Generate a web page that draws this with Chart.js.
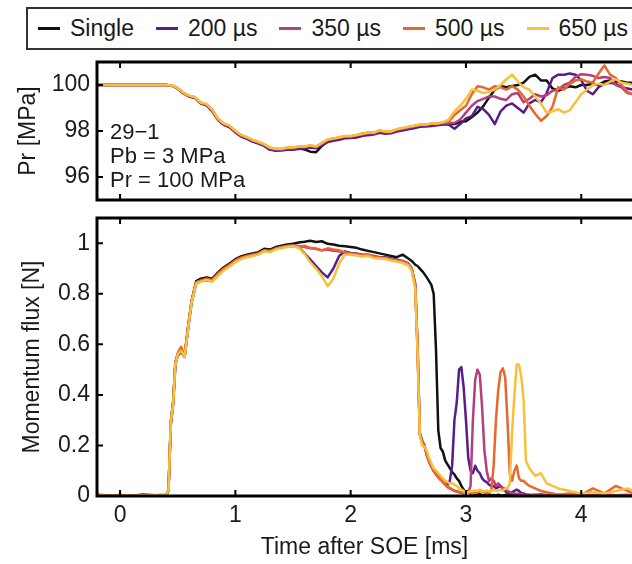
<!DOCTYPE html>
<html>
<head>
<meta charset="utf-8">
<script src="https://cdn.jsdelivr.net/npm/chart.js@4.4.1/dist/chart.umd.min.js"></script>
<style>
  html, body { margin:0; padding:0; background:#fff; width:632px; height:564px; overflow:hidden; }
  body { position:relative; font-family:'Liberation Sans', Arial, sans-serif; color:#1a1a1a; }
  #legend { position:absolute; left:26px; top:7px; height:39px; width:700px; border:2px solid #333;
            display:flex; align-items:center; padding-left:10px; box-sizing:content-box; }
  #legend .dash { width:22px; height:3px; margin-right:10px; }
  #legend .txt { font-size:23px; margin-right:22px; white-space:nowrap; line-height:1; }
  #topWrap { position:absolute; left:0; top:50px; }
  #botWrap { position:absolute; left:0; top:205px; }
</style>
</head>
<body>
<div id="legend"></div>
<div id="topWrap"><canvas id="prChart" width="632" height="160" style="width:632px;height:160px"></canvas></div>
<div id="botWrap"><canvas id="fluxChart" width="632" height="359" style="width:632px;height:359px"></canvas></div>
<script>
// ---------- data ----------
const seriesLabels = ['Single', '200 µs', '350 µs', '500 µs', '650 µs'];
const seriesColors = ['#111111', '#5a1d8c', '#b43f7c', '#e8672d', '#f6c13c'];
const timeTicks = [0, 1, 2, 3, 4];
const prTicks = [96, 98, 100];
const fluxTicks = [0, 0.2, 0.4, 0.6, 0.8, 1];
const annotationLines = ['29\u22121', 'Pb = 3 MPa', 'Pr = 100 MPa'];

// Pressure panel time axis [ms]
const timePr = [
  -0.2, 0, 0.2, 0.4,
  0.45, 0.5, 0.55, 0.6, 0.65, 0.7, 0.75, 0.8, 0.85, 0.9, 0.95, 1.0,
  1.05, 1.1, 1.15, 1.2, 1.25, 1.3, 1.35, 1.4, 1.45, 1.5,
  1.55, 1.6, 1.65, 1.7, 1.75, 1.8, 1.85, 1.9, 1.95, 2.0,
  2.05, 2.1, 2.15, 2.2, 2.25, 2.3, 2.35, 2.4, 2.45, 2.5,
  2.55, 2.6, 2.65, 2.7, 2.75, 2.8, 2.85, 2.9, 2.95, 3.0,
  3.05, 3.1, 3.15, 3.2, 3.25, 3.3, 3.35, 3.4, 3.45, 3.5,
  3.55, 3.6, 3.65, 3.7, 3.75, 3.8, 3.85, 3.9, 3.95, 4.0,
  4.05, 4.1, 4.15, 4.2, 4.25, 4.3, 4.35, 4.4, 4.45
];
const prSingle = [
  100, 100, 100, 100,
  99.97, 99.85, 99.65, 99.5, 99.45, 99.2, 99.12, 98.88, 98.5, 98.28, 98.18, 97.95,
  97.78, 97.68, 97.55, 97.48, 97.38, 97.22, 97.15, 97.18, 97.2, 97.2,
  97.25, 97.2, 97.1, 97.08, 97.35, 97.55, 97.62, 97.7, 97.72, 97.75,
  97.8, 97.88, 97.92, 97.9, 98.02, 97.95, 97.98, 98.05, 98.1, 98.12,
  98.18, 98.22, 98.25, 98.28, 98.3, 98.32, 98.3, 98.3, 98.4, 98.42,
  98.6, 98.8, 99.08, 99.45, 99.8, 99.96, 99.9, 99.96, 100.0, 100.1,
  100.35, 100.45, 100.2, 100.2, 99.85, 99.75, 99.85, 99.95, 99.9, 100.0,
  100.0, 100.05, 100.0, 100.15, 100.2, 100.15, 100.15, 100.1, 100.1
];
const pr200 = [
  100, 100, 100, 100,
  99.97, 99.84, 99.63, 99.5, 99.43, 99.2, 99.12, 98.86, 98.48, 98.27, 98.16, 97.94,
  97.76, 97.66, 97.54, 97.45, 97.35, 97.18, 97.15, 97.15, 97.18, 97.2,
  97.22, 97.25, 97.28, 97.25, 97.38, 97.52, 97.58, 97.62, 97.68, 97.7,
  97.72, 97.78, 97.82, 97.85, 97.92, 97.88, 97.9, 97.98, 98.02, 98.08,
  98.12, 98.18, 98.2, 98.22, 98.25, 98.28, 98.28, 98.1, 98.3, 98.55,
  98.65, 99.05, 98.95, 98.7, 98.3, 98.85, 99.1, 99.2, 99.0, 98.8,
  99.2, 99.35, 99.25, 99.65, 100.3, 100.45, 100.45, 100.5, 100.45, 100.2,
  99.75, 99.6, 99.9, 100.05, 100.1, 100.05, 99.9, 99.85, 99.8
];
const pr350 = [
  100, 100, 100, 100,
  99.97, 99.85, 99.65, 99.52, 99.45, 99.22, 99.15, 98.9, 98.5, 98.3, 98.2, 97.98,
  97.8, 97.7, 97.58, 97.5, 97.4, 97.25, 97.2, 97.2, 97.25, 97.25,
  97.3, 97.3, 97.35, 97.3, 97.45, 97.6, 97.65, 97.7, 97.75, 97.75,
  97.8, 97.85, 97.9, 97.9, 98.0, 97.95, 97.95, 98.05, 98.1, 98.15,
  98.2, 98.25, 98.25, 98.3, 98.3, 98.35, 98.35, 98.35, 98.5, 98.8,
  99.1, 99.3, 99.4, 99.5, 99.5, 99.4, 99.35, 99.6, 99.65, 99.25,
  99.4, 99.6, 99.5, 99.55, 99.75, 99.8, 100.0, 100.1, 100.35, 100.47,
  100.45, 100.4, 100.3, 100.35, 100.3, 100.0, 99.9, 99.65, 99.6
];
const pr500 = [
  100, 100, 100, 100,
  99.98, 99.86, 99.66, 99.53, 99.46, 99.23, 99.16, 98.92, 98.52, 98.32, 98.22, 98.0,
  97.82, 97.72, 97.6, 97.52, 97.42, 97.27, 97.22, 97.22, 97.27, 97.27,
  97.32, 97.32, 97.37, 97.32, 97.47, 97.62, 97.67, 97.72, 97.77, 97.77,
  97.82, 97.87, 97.92, 97.92, 98.02, 97.97, 97.97, 98.07, 98.12, 98.17,
  98.22, 98.27, 98.27, 98.32, 98.32, 98.37, 98.4, 98.7, 98.9, 99.1,
  99.6, 99.95, 99.9, 99.8, 99.95, 99.9, 99.8, 99.95, 99.8, 99.5,
  99.1, 98.75, 98.45, 98.65, 99.05, 99.9, 99.8, 100.05, 100.2, 100.25,
  100.15, 100.1, 100.5, 100.85, 100.45, 100.3, 100.0, 99.7, 99.6
];
const pr650 = [
  100, 100, 100, 100,
  99.98, 99.86, 99.67, 99.54, 99.47, 99.24, 99.17, 98.93, 98.53, 98.33, 98.23, 98.01,
  97.83, 97.73, 97.61, 97.53, 97.43, 97.28, 97.23, 97.23, 97.28, 97.28,
  97.33, 97.33, 97.38, 97.33, 97.48, 97.63, 97.68, 97.73, 97.78, 97.78,
  97.83, 97.88, 97.93, 97.93, 98.03, 97.98, 97.98, 98.08, 98.13, 98.18,
  98.23, 98.28, 98.28, 98.33, 98.33, 98.38, 98.5, 98.85, 99.1, 99.4,
  99.8, 99.75, 99.65, 99.7, 99.8, 100.0, 100.25, 100.45, 100.15, 99.9,
  99.8, 99.5, 99.2, 98.8, 98.85, 98.95, 98.8, 98.9, 99.25, 99.6,
  99.8, 100.0, 100.05, 100.0, 100.15, 100.25, 100.1, 100.05, 100.0
];

// Momentum flux panel time axis [ms]
const timeFlux = [
  -0.2, -0.1, 0, 0.1, 0.2, 0.3, 0.4,
  0.42, 0.44, 0.46, 0.48, 0.5, 0.53, 0.56, 0.59, 0.62, 0.66,
  0.7, 0.75, 0.8, 0.85, 0.9, 0.95, 1.0, 1.05, 1.1, 1.15,
  1.2, 1.25, 1.3, 1.35, 1.4, 1.45, 1.5, 1.55, 1.6, 1.65,
  1.7, 1.75, 1.8, 1.85, 1.9, 1.95, 2.0, 2.05, 2.1, 2.15,
  2.2, 2.25, 2.3, 2.35, 2.4, 2.45, 2.5, 2.53, 2.56,
  2.58, 2.6, 2.62, 2.64, 2.66, 2.68, 2.7, 2.72, 2.74, 2.76,
  2.78, 2.8, 2.82, 2.84, 2.86, 2.88, 2.9, 2.92, 2.94, 2.96,
  2.98, 3.0, 3.02, 3.04, 3.06, 3.08, 3.1, 3.12, 3.14, 3.16,
  3.18, 3.2, 3.22, 3.24, 3.26, 3.28, 3.3, 3.32, 3.34, 3.36,
  3.38, 3.4, 3.42, 3.44, 3.46, 3.48, 3.5, 3.52,
  3.55, 3.6, 3.65, 3.7, 3.75, 3.8, 3.9, 4.0, 4.1, 4.2, 4.3, 4.4, 4.45
];
const fluxSingle = [
  0.003, 0.001, 0.002, 0.0, 0.003, 0.002, 0.004,
  0.02, 0.29, 0.37, 0.53, 0.56, 0.575, 0.555, 0.67, 0.77, 0.85,
  0.86, 0.865, 0.86, 0.885, 0.905, 0.92, 0.937, 0.948, 0.955, 0.96,
  0.965, 0.978, 0.975, 0.985, 0.99, 0.995, 0.998, 1.003, 1.006, 1.01,
  1.005, 1.008, 0.998, 0.995, 0.99, 0.988, 0.985, 0.982, 0.975, 0.97,
  0.965, 0.96, 0.955, 0.95, 0.945, 0.955, 0.94, 0.93, 0.915,
  0.91, 0.9, 0.89, 0.878, 0.865, 0.85, 0.835, 0.8, 0.58, 0.26,
  0.19, 0.175, 0.14, 0.125, 0.11, 0.095, 0.085, 0.07, 0.06, 0.04,
  0.025, 0.01, 0.02, 0.008, 0.012, 0.005, 0.004, 0.008, 0.003, 0.005,
  0.002, 0.006, 0.003, 0.004, 0.002, 0.005, 0.003, 0.002, 0.004, 0.003,
  0.006, 0.01, 0.004, 0.003, 0.005, 0.002, 0.003, 0.002,
  0.003, 0.002, 0.004, 0.002, 0.003, 0.002, 0.003, 0.005, 0.002, 0.003, 0.002, 0.003, 0.002
];
const flux200 = [
  0.005, 0.002, 0.004, 0.001, 0.006, 0.003, 0.005,
  0.02, 0.28, 0.36, 0.52, 0.555, 0.57, 0.55, 0.66, 0.765, 0.84,
  0.85, 0.855, 0.85, 0.875, 0.895, 0.91, 0.928, 0.94, 0.948, 0.952,
  0.958, 0.97, 0.968, 0.978, 0.982, 0.988, 0.99, 0.985, 0.96, 0.935,
  0.91, 0.885, 0.865, 0.9, 0.95, 0.968, 0.962, 0.96, 0.955, 0.955,
  0.95, 0.945, 0.945, 0.94, 0.935, 0.93, 0.92, 0.9, 0.84,
  0.6, 0.25, 0.22, 0.2, 0.165, 0.14, 0.12, 0.1, 0.088, 0.075,
  0.065, 0.058, 0.05, 0.045, 0.06, 0.12, 0.3, 0.37, 0.5, 0.51,
  0.43, 0.3, 0.15, 0.1, 0.09, 0.12, 0.1, 0.09, 0.07, 0.06,
  0.055, 0.045, 0.04, 0.04, 0.03, 0.035, 0.04, 0.03, 0.02, 0.012,
  0.01, 0.015, 0.02, 0.025, 0.02, 0.012, 0.01, 0.006,
  0.005, 0.004, 0.006, 0.003, 0.005, 0.004, 0.003, 0.004, 0.003, 0.005, 0.003, 0.004, 0.003
];
const flux350 = [
  0.004, 0.002, 0.003, 0.001, 0.004, 0.002, 0.004,
  0.02, 0.285, 0.365, 0.525, 0.56, 0.575, 0.552, 0.665, 0.768, 0.845,
  0.852, 0.858, 0.852, 0.878, 0.898, 0.912, 0.93, 0.942, 0.95, 0.955,
  0.96, 0.972, 0.97, 0.98, 0.985, 0.99, 0.992, 0.988, 0.985, 0.98,
  0.978, 0.972, 0.975, 0.97, 0.968, 0.962, 0.958, 0.955, 0.95, 0.952,
  0.945, 0.942, 0.94, 0.935, 0.93, 0.925, 0.915, 0.895, 0.83,
  0.58, 0.24, 0.21, 0.2, 0.16, 0.135, 0.115, 0.1, 0.085, 0.075,
  0.065, 0.055, 0.045, 0.035, 0.03, 0.025, 0.02, 0.018, 0.015, 0.012,
  0.01, 0.012, 0.015, 0.04, 0.3, 0.46, 0.5, 0.48, 0.35, 0.18,
  0.1, 0.06, 0.07, 0.06, 0.04, 0.05, 0.04, 0.03, 0.03, 0.02,
  0.015, 0.012, 0.01, 0.008, 0.01, 0.008, 0.006, 0.005,
  0.004, 0.005, 0.003, 0.004, 0.003, 0.004, 0.003, 0.005, 0.003, 0.004, 0.003, 0.004, 0.003
];
const flux500 = [
  0.003, 0.002, 0.003, 0.001, 0.003, 0.002, 0.004,
  0.02, 0.3, 0.37, 0.53, 0.565, 0.59, 0.555, 0.665, 0.77, 0.845,
  0.853, 0.86, 0.855, 0.88, 0.9, 0.915, 0.932, 0.943, 0.95, 0.955,
  0.96, 0.972, 0.968, 0.978, 0.984, 0.988, 0.99, 0.985, 0.99, 0.982,
  0.978, 0.972, 0.98, 0.975, 0.972, 0.965, 0.96, 0.958, 0.953, 0.955,
  0.948, 0.944, 0.942, 0.937, 0.932, 0.928, 0.918, 0.898, 0.835,
  0.59, 0.245, 0.215, 0.2, 0.165, 0.14, 0.118, 0.1, 0.087, 0.076,
  0.066, 0.056, 0.046, 0.038, 0.032, 0.026, 0.022, 0.02, 0.016, 0.014,
  0.012, 0.01, 0.014, 0.012, 0.01, 0.012, 0.015, 0.02, 0.018, 0.015,
  0.012, 0.015, 0.02, 0.12, 0.3, 0.42, 0.49, 0.505, 0.47, 0.3,
  0.09, 0.06, 0.1, 0.12, 0.07, 0.06, 0.06, 0.05,
  0.04, 0.03, 0.02, 0.015, 0.01, 0.005, 0.01, 0.005, 0.03, 0.01, 0.04, 0.02, 0.01
];
const flux650 = [
  0.003, 0.001, 0.002, 0.001, 0.003, 0.002, 0.004,
  0.02, 0.29, 0.36, 0.52, 0.56, 0.575, 0.55, 0.66, 0.765, 0.84,
  0.848, 0.855, 0.848, 0.872, 0.892, 0.908, 0.925, 0.937, 0.945, 0.95,
  0.955, 0.968, 0.965, 0.975, 0.98, 0.985, 0.988, 0.982, 0.958, 0.925,
  0.9, 0.87, 0.83, 0.86, 0.92, 0.955, 0.955, 0.952, 0.948, 0.95,
  0.942, 0.94, 0.938, 0.932, 0.928, 0.922, 0.912, 0.89, 0.82,
  0.57, 0.24, 0.2, 0.195, 0.18, 0.15, 0.13, 0.11, 0.1, 0.09,
  0.08, 0.07, 0.06, 0.055, 0.05, 0.05, 0.045, 0.04, 0.03, 0.025,
  0.02, 0.01, 0.015, 0.02, 0.018, 0.022, 0.02, 0.025, 0.02, 0.018,
  0.022, 0.018, 0.02, 0.025, 0.02, 0.022, 0.025, 0.02, 0.03, 0.03,
  0.05, 0.25, 0.4, 0.52, 0.52, 0.47, 0.38, 0.14,
  0.11, 0.08, 0.09, 0.05, 0.04, 0.03, 0.02, 0.01, 0.015, 0.01, 0.02, 0.03, 0.02
];

// ---------- rendering ----------
const FONT = "'Liberation Sans', Arial, Helvetica, sans-serif";
const TXT = '#1a1a1a';
Chart.defaults.font.family = FONT;

// legend (HTML)
const legend = document.getElementById('legend');
seriesLabels.forEach((lab, i) => {
  const d = document.createElement('span'); d.className = 'dash'; d.style.background = seriesColors[i];
  const t = document.createElement('span'); t.className = 'txt'; t.textContent = lab;
  legend.appendChild(d); legend.appendChild(t);
});

function toPoints(t, v) { return t.map((x, i) => ({ x: x, y: v[i] })); }
function makeDatasets(t, arrays) {
  return arrays.map((v, i) => ({
    label: seriesLabels[i], data: toPoints(t, v), borderColor: seriesColors[i],
    backgroundColor: seriesColors[i], borderWidth: 2.5, pointRadius: 0, tension: 0,
    borderJoinStyle: 'round', fill: false, order: arrays.length - i
  }));
}

const framePlugin = {
  id: 'frame',
  afterDatasetsDraw(chart, args, opts) {
    const { ctx, chartArea: a, scales } = chart;
    ctx.save();
    ctx.strokeStyle = '#000';
    ctx.lineWidth = 3;
    ctx.lineCap = 'square';
    ctx.beginPath();
    ctx.moveTo(a.right + 10, a.top); ctx.lineTo(a.left, a.top);
    ctx.lineTo(a.left, a.bottom); ctx.lineTo(a.right + 10, a.bottom);
    ctx.stroke();
    ctx.lineWidth = 2;
    ctx.lineCap = 'butt';
    ctx.beginPath();
    timeTicks.forEach(v => {
      const x = scales.x.getPixelForValue(v);
      ctx.moveTo(x, a.top); ctx.lineTo(x, a.top + 6);
      ctx.moveTo(x, a.bottom); ctx.lineTo(x, a.bottom - 6);
    });
    (opts.yTicks || []).forEach(v => {
      const y = scales.y.getPixelForValue(v);
      ctx.moveTo(a.left, y); ctx.lineTo(a.left + 6, y);
    });
    ctx.stroke();
    if (opts.notes) {
      ctx.fillStyle = TXT;
      ctx.font = '22px ' + FONT;
      ctx.textBaseline = 'alphabetic';
      ctx.textAlign = 'left';
      opts.notes.forEach((s, i) => ctx.fillText(s, a.left + 13, a.top + 77 + i * 24));
    }
    ctx.restore();
  }
};

const tickFont = { family: FONT, size: 23 };
const titleFont = { family: FONT, size: 23 };
function fixY(s) { s.width = 97; s.paddingTop = 0; s.paddingBottom = 0; }

new Chart(document.getElementById('prChart'), {
  type: 'line',
  data: { datasets: makeDatasets(timePr, [prSingle, pr200, pr350, pr500, pr650]) },
  options: {
    responsive: false, animation: false, events: [],
    layout: { padding: { top: 12, bottom: 10, left: 0, right: 0 } },
    plugins: { legend: { display: false }, tooltip: { enabled: false },
               frame: { yTicks: prTicks, notes: annotationLines } },
    scales: {
      x: { type: 'linear', min: -0.2, max: 4.44, display: false },
      y: {
        type: 'linear', min: 95, max: 101,
        afterBuildTicks: s => { s.ticks = prTicks.map(v => ({ value: v })); },
        afterFit: fixY,
        grid: { display: false, drawTicks: false }, border: { display: false },
        ticks: { font: tickFont, color: TXT, padding: 7, callback: v => String(v) },
        title: { display: true, text: 'Pr [MPa]', font: titleFont, color: TXT, padding: { top: 15, bottom: 0 } }
      }
    }
  },
  plugins: [framePlugin]
});

new Chart(document.getElementById('fluxChart'), {
  type: 'line',
  data: { datasets: makeDatasets(timeFlux, [fluxSingle, flux200, flux350, flux500, flux650]) },
  options: {
    responsive: false, animation: false, events: [],
    layout: { padding: { top: 13, bottom: 0, left: 0, right: 0 } },
    plugins: { legend: { display: false }, tooltip: { enabled: false },
               frame: { yTicks: fluxTicks } },
    scales: {
      x: {
        type: 'linear', min: -0.2, max: 4.44,
        afterBuildTicks: s => { s.ticks = timeTicks.map(v => ({ value: v })); },
        afterFit: s => { s.height = 68; s.paddingLeft = 0; s.paddingRight = 0; },
        grid: { display: false, drawTicks: false }, border: { display: false },
        ticks: { font: tickFont, color: TXT, padding: 6, maxRotation: 0, autoSkip: false, callback: v => String(v) },
        title: { display: true, text: 'Time after SOE [ms]', font: titleFont, color: TXT, padding: { top: 0, bottom: 3 } }
      },
      y: {
        type: 'linear', min: 0, max: 1.1,
        afterBuildTicks: s => { s.ticks = fluxTicks.map(v => ({ value: v })); },
        afterFit: fixY,
        grid: { display: false, drawTicks: false }, border: { display: false },
        ticks: { font: tickFont, color: TXT, padding: 7, callback: v => String(v) },
        title: { display: true, text: 'Momentum flux [N]', font: titleFont, color: TXT, padding: { top: 19, bottom: 0 } }
      }
    }
  },
  plugins: [framePlugin]
});
</script>
</body>
</html>
